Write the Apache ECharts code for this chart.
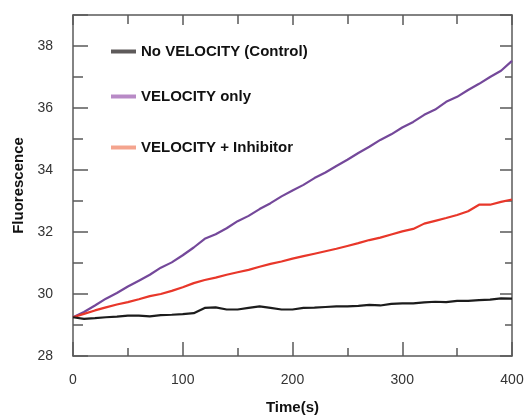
<!DOCTYPE html>
<html>
<head>
<meta charset="utf-8">
<script src="https://cdn.jsdelivr.net/npm/echarts@6/dist/echarts.min.js"></script>
<style>
html,body{margin:0;padding:0;background:#fff;}
#c{width:526px;height:416px;}
</style>
</head>
<body>
<div id="c"></div>
<script>
const times = [0,10,20,30,40,50,60,70,80,90,100,110,120,130,140,150,160,170,180,190,200,210,220,230,240,250,260,270,280,290,300,310,320,330,340,350,360,370,380,390,400];
const controlValues = [29.25,29.2,29.22,29.25,29.27,29.3,29.3,29.28,29.32,29.33,29.35,29.38,29.55,29.57,29.5,29.5,29.55,29.6,29.55,29.5,29.5,29.55,29.56,29.58,29.6,29.6,29.62,29.65,29.63,29.68,29.7,29.7,29.73,29.75,29.74,29.78,29.78,29.8,29.82,29.86,29.85];
const velocityValues = [29.25,29.42,29.63,29.85,30.03,30.24,30.43,30.62,30.85,31.02,31.25,31.5,31.78,31.93,32.12,32.35,32.52,32.74,32.93,33.15,33.34,33.52,33.74,33.92,34.13,34.33,34.55,34.75,34.97,35.15,35.37,35.55,35.78,35.95,36.2,36.36,36.58,36.78,37.0,37.2,37.52];
const inhibitorValues = [29.25,29.36,29.47,29.57,29.66,29.74,29.83,29.93,30.0,30.1,30.22,30.35,30.45,30.53,30.62,30.7,30.78,30.88,30.97,31.05,31.14,31.22,31.3,31.38,31.46,31.55,31.64,31.74,31.82,31.92,32.02,32.1,32.27,32.36,32.45,32.55,32.67,32.88,32.88,32.97,33.05];
const seriesNames = ['No VELOCITY (Control)','VELOCITY only','VELOCITY + Inhibitor'];
const xTickLabels = [0,100,200,300,400];
const yTickLabels = [28,30,32,34,36,38];

const FONT = 'Liberation Sans, Arial, Helvetica, sans-serif';
const frameColor = '#5a5a5a';
const lineColors = ['#1c1c1c','#74489a','#e8372a'];
const legendColors = ['#5e5a5a','#b88ac6','#f4a48e'];
const legendTops = [39,84,135];

function pairs(vals){ return times.map((t,i)=>[t,vals[i]]); }

function mkAxis(type, pos, interval, tickLen, showLine, extra){
  const base = {
    type:'value', position:pos, interval:interval,
    min: type==='x'?0:28, max: type==='x'?400:39,
    axisLine:{show:showLine,onZero:false,lineStyle:{color:frameColor,width:1.5}},
    axisTick:{show:true,inside:true,length:tickLen,lineStyle:{color:frameColor,width:1.5}},
    axisLabel:{show:false},
    splitLine:{show:false}
  };
  return Object.assign(base, extra||{});
}

const chart = echarts.init(document.getElementById('c'));
chart.setOption({
  animation:false,
  backgroundColor:'#fff',
  grid:{left:73,right:14,top:15,bottom:60,containLabel:false,outerBoundsMode:'none'},
  legend: seriesNames.map((n,i)=>({
    left:106, top:legendTops[i], orient:'vertical',
    icon:'rect', itemWidth:25, itemHeight:4, itemGap:8,
    selectedMode:false,
    textStyle:{fontFamily:FONT,fontWeight:'bold',fontSize:15,color:'#111'},
    data:[{name:n,itemStyle:{color:legendColors[i]}}]
  })),
  xAxis:[
    mkAxis('x','bottom',50,8,true,{
      name:'Time(s)',nameLocation:'middle',nameGap:44,
      nameTextStyle:{fontFamily:FONT,fontWeight:'bold',fontSize:15,color:'#111'},
      axisLabel:{show:true,fontFamily:FONT,fontSize:14,color:'#333',margin:17,
        formatter:v=>xTickLabels.includes(v)?String(v):''}}),
    mkAxis('x','bottom',100,14,false),
    mkAxis('x','top',50,9,true),
    mkAxis('x','top',100,10,false)
  ],
  yAxis:[
    mkAxis('y','left',1,10,true,{
      name:'Fluorescence',nameLocation:'middle',nameGap:47,nameRotate:90,
      nameTextStyle:{fontFamily:FONT,fontWeight:'bold',fontSize:15,color:'#111'},
      axisLabel:{show:true,fontFamily:FONT,fontSize:14,color:'#333',margin:20,
        formatter:v=>yTickLabels.includes(v)?String(v):''}}),
    mkAxis('y','left',2,15,false),
    mkAxis('y','right',1,7,true),
    mkAxis('y','right',2,12,false)
  ],
  series:[controlValues,velocityValues,inhibitorValues].map((vals,i)=>({
    name:seriesNames[i], type:'line', data:pairs(vals),
    xAxisIndex:0,yAxisIndex:0,
    showSymbol:false, symbol:'none',
    lineStyle:{color:lineColors[i],width:2.2},
    itemStyle:{color:legendColors[i]},
    z: i===0?3:2
  }))
});
</script>
</body>
</html>
